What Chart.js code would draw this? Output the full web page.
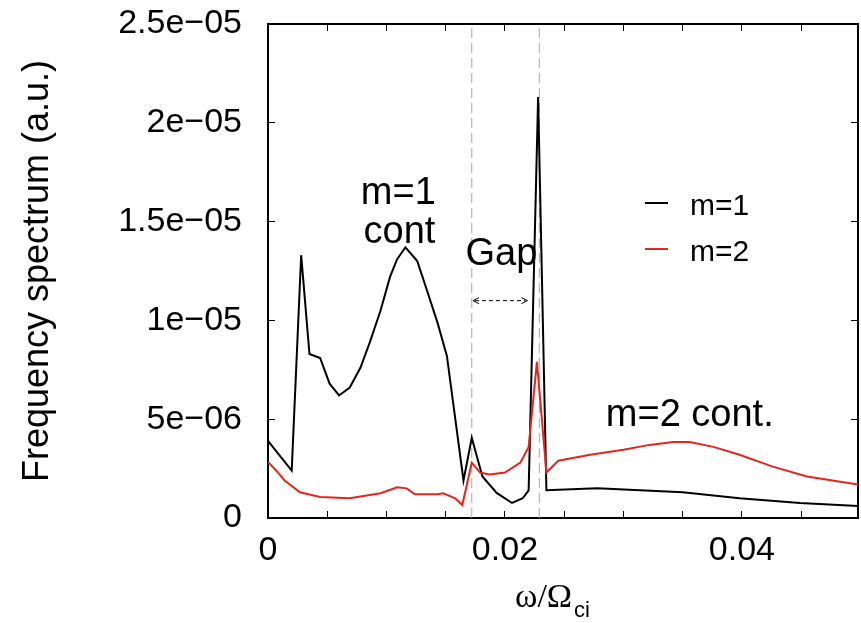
<!DOCTYPE html>
<html>
<head>
<meta charset="utf-8">
<script src="https://cdn.jsdelivr.net/npm/chart.js@4.4.0/dist/chart.umd.min.js"></script>
<style>
  html, body { margin: 0; padding: 0; background: #fff; }
</style>
</head>
<body>
<canvas id="spectrum" width="861" height="623"></canvas>
<script>
// omega / Omega_ci and spectrum values
const omegaM1 = [0, 0.0020, 0.0028, 0.0035, 0.0044, 0.0052, 0.0060, 0.0069, 0.0078, 0.0086,
  0.0095, 0.0103, 0.0109, 0.0116, 0.0126, 0.0134, 0.0143, 0.0151, 0.0165, 0.0172,
  0.0181, 0.0193, 0.0206, 0.0215, 0.0220, 0.0228, 0.0235, 0.0278, 0.0350, 0.0398,
  0.0449, 0.0498];
const specM1 = [3.9e-6, 2.4e-6, 1.33e-5, 8.3e-6, 8.1e-6, 6.8e-6, 6.2e-6, 6.6e-6, 7.6e-6, 8.9e-6,
  1.05e-5, 1.22e-5, 1.31e-5, 1.37e-5, 1.30e-5, 1.155e-5, 9.9e-6, 8.2e-6, 1.9e-6, 4.05e-6,
  2.1e-6, 1.27e-6, 7.6e-7, 1.0e-6, 1.4e-6, 2.13e-5, 1.4e-6, 1.5e-6, 1.3e-6, 1.0e-6,
  7.6e-7, 6.1e-7];

const omegaM2 = [0, 0.0008, 0.0014, 0.0027, 0.0044, 0.0069, 0.0095, 0.0109, 0.0117, 0.0124,
  0.0143, 0.0148, 0.0158, 0.0164, 0.0172, 0.0179, 0.0187, 0.0200, 0.0213, 0.0220,
  0.0227, 0.0235, 0.0245, 0.0272, 0.0300, 0.0322, 0.0342, 0.0356, 0.0376, 0.0398,
  0.0426, 0.0455, 0.0498];
const specM2 = [2.84e-6, 2.33e-6, 1.9e-6, 1.3e-6, 1.06e-6, 1.0e-6, 1.25e-6, 1.55e-6, 1.5e-6, 1.2e-6,
  1.2e-6, 1.25e-6, 1.0e-6, 6.6e-7, 2.8e-6, 2.3e-6, 2.2e-6, 2.3e-6, 2.8e-6, 3.6e-6,
  7.9e-6, 2.3e-6, 2.9e-6, 3.2e-6, 3.45e-6, 3.7e-6, 3.85e-6, 3.85e-6, 3.6e-6, 3.2e-6,
  2.6e-6, 2.1e-6, 1.7e-6];

const gapLines = [0.0172, 0.0229];

const xTickValues = [0, 0.005, 0.01, 0.015, 0.02, 0.025, 0.03, 0.035, 0.04, 0.045];
const xMajorTicks = [0, 0.02, 0.04];
const xMajorLabels = ['0', '0.02', '0.04'];
const yTickValues = [0, 5e-6, 1e-5, 1.5e-5, 2e-5, 2.5e-5];
const yTickLabels = ['0', '5e\u221206', '1e\u221205', '1.5e\u221205', '2e\u221205', '2.5e\u221205'];

const noteText = ['m=1', 'cont', 'Gap', 'm=2 cont.'];
const noteX = [0.0110, 0.0111, 0.0197, 0.0356];
const noteY = [1.59e-5, 1.393e-5, 1.282e-5, 4.66e-6];
const gapArrow = [0.0173, 0.0219, 1.1e-5];

const FONT = '"Liberation Sans", Arial, Helvetica, sans-serif';
const RED = '#e3261f';

const toPoints = (xs, ys) => xs.map((x, i) => ({ x: x, y: ys[i] }));

// legend, annotations and the x-axis label with its subscript
const notesPlugin = {
  id: 'notes',
  afterDatasetsDraw(chart) {
    const ctx = chart.ctx;
    const xs = chart.scales.x, ys = chart.scales.y;
    const area = chart.chartArea;
    ctx.save();
    ctx.fillStyle = '#000';
    ctx.textBaseline = 'alphabetic';

    ctx.font = '38px ' + FONT;
    ctx.textAlign = 'center';
    noteText.forEach((t, i) => {
      ctx.fillText(t, xs.getPixelForValue(noteX[i]), ys.getPixelForValue(noteY[i]));
    });

    // little dashed double arrow under "Gap"
    const ax1 = xs.getPixelForValue(gapArrow[0]);
    const ax2 = xs.getPixelForValue(gapArrow[1]);
    const ay = ys.getPixelForValue(gapArrow[2]);
    ctx.strokeStyle = '#000';
    ctx.lineWidth = 1;
    ctx.setLineDash([4, 3]);
    ctx.beginPath();
    ctx.moveTo(ax1 + 2, ay);
    ctx.lineTo(ax2 - 2, ay);
    ctx.stroke();
    ctx.setLineDash([]);
    ctx.beginPath();
    ctx.moveTo(ax1 + 6, ay - 3); ctx.lineTo(ax1, ay); ctx.lineTo(ax1 + 6, ay + 3);
    ctx.moveTo(ax2 - 6, ay - 3); ctx.lineTo(ax2, ay); ctx.lineTo(ax2 - 6, ay + 3);
    ctx.stroke();

    // legend
    const lx = area.right - 213;
    ctx.font = '30px ' + FONT;
    ctx.textAlign = 'left';
    chart.data.datasets.slice(0, 2).reverse().forEach((ds, i) => {
      const y = area.top + 179 + i * 46;
      ctx.strokeStyle = ds.borderColor;
      ctx.lineWidth = 2;
      ctx.beginPath();
      ctx.moveTo(lx, y);
      ctx.lineTo(lx + 23, y);
      ctx.stroke();
      ctx.fillText(ds.label, lx + 45, y + 12);
    });

    // x axis title: omega / Omega_ci
    const cx = (area.left + area.right) / 2 - 48;
    ctx.font = '34px "Liberation Serif", "Times New Roman", serif';
    ctx.fillText('\u03c9/\u03a9', cx, 607);
    const w = ctx.measureText('\u03c9/\u03a9').width;
    ctx.font = '22px ' + FONT;
    ctx.fillText('ci', cx + w + 2, 617);
    ctx.restore();
  }
};

const setTicks = (values) => (scale) => {
  scale.ticks = values.map(v => ({ value: v }));
};

// fixed box sizes so the plot frame sits where the original one does
const fixBox = (w, h) => (s) => {
  if (w !== null) s.width = w;
  if (h !== null) s.height = h;
  s.paddingTop = 0;
  s.paddingBottom = 0;
  s.paddingLeft = 0;
  s.paddingRight = 0;
};

const tickGrid = {
  drawOnChartArea: false,
  drawTicks: true,
  tickLength: -7,
  color: '#000',
  tickWidth: 1
};
const frame = { color: '#000', width: 2 };

const ctx = document.getElementById('spectrum').getContext('2d');
new Chart(ctx, {
  type: 'line',
  data: {
    datasets: [
      {
        label: 'm=2',
        data: toPoints(omegaM2, specM2),
        borderColor: RED,
        borderWidth: 2,
        pointRadius: 0,
        tension: 0
      },
      {
        label: 'm=1',
        data: toPoints(omegaM1, specM1),
        borderColor: '#000',
        borderWidth: 2,
        pointRadius: 0,
        tension: 0
      },
      ...gapLines.map(g => ({
        label: 'gap',
        data: [{ x: g, y: 0 }, { x: g, y: 2.5e-5 }],
        borderColor: '#a8a8a8',
        borderWidth: 1,
        borderDash: [10, 5],
        pointRadius: 0
      }))
    ]
  },
  options: {
    responsive: false,
    animation: false,
    layout: { padding: { top: 24, right: 3, bottom: 0, left: 0 } },
    plugins: {
      legend: { display: false },
      tooltip: { enabled: false }
    },
    scales: {
      x: {
        type: 'linear',
        position: 'bottom',
        min: 0,
        max: 0.0498,
        afterBuildTicks: setTicks(xTickValues),
        afterFit: fixBox(null, 105),
        grid: tickGrid,
        border: frame,
        ticks: {
          autoSkip: false,
          maxRotation: 0,
          padding: 19,
          color: '#000',
          font: { family: FONT, size: 34 },
          callback: (v) => {
            const i = xMajorTicks.findIndex(t => Math.abs(t - v) < 1e-9);
            return i >= 0 ? xMajorLabels[i] : '';
          }
        }
      },
      x2: {
        type: 'linear',
        position: 'top',
        min: 0,
        max: 0.0498,
        afterBuildTicks: setTicks(xTickValues),
        afterFit: fixBox(null, 0),
        grid: tickGrid,
        border: frame,
        ticks: { display: false }
      },
      y: {
        type: 'linear',
        position: 'left',
        min: 0,
        max: 2.5e-5,
        afterBuildTicks: setTicks(yTickValues),
        afterFit: fixBox(268, null),
        grid: tickGrid,
        border: frame,
        ticks: {
          padding: 33,
          color: '#000',
          font: { family: FONT, size: 34 },
          callback: (v, i) => yTickLabels[i]
        },
        title: {
          display: true,
          text: 'Frequency spectrum (a.u.)',
          color: '#000',
          font: { family: FONT, size: 36 },
          padding: { top: 16, bottom: 0 }
        }
      },
      y2: {
        type: 'linear',
        position: 'right',
        min: 0,
        max: 2.5e-5,
        afterBuildTicks: setTicks(yTickValues),
        afterFit: fixBox(0, null),
        grid: tickGrid,
        border: frame,
        ticks: { display: false }
      }
    }
  },
  plugins: [notesPlugin]
});
</script>
</body>
</html>
